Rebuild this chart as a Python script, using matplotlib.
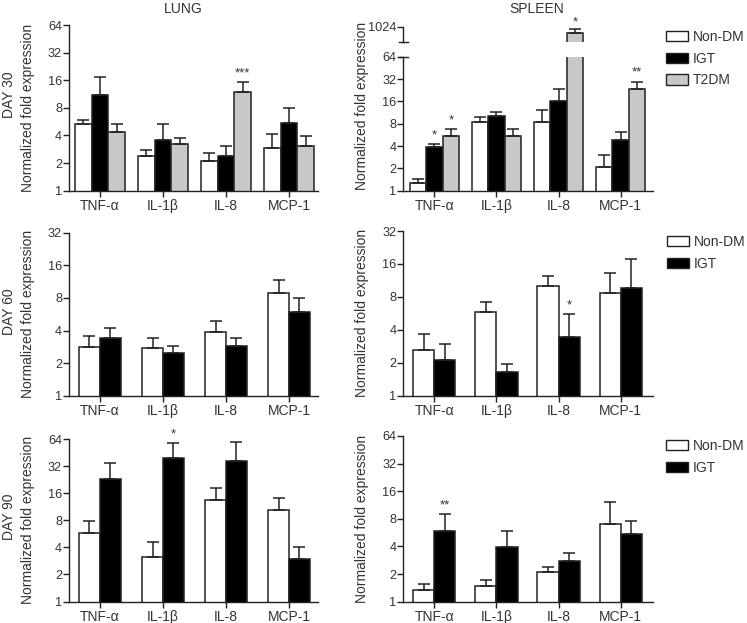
import numpy as np
import matplotlib
matplotlib.use("Agg")
import matplotlib.pyplot as plt
from matplotlib.patches import Patch
from matplotlib.ticker import FixedLocator, NullLocator

plt.rcParams['font.family'] = ['Liberation Sans', 'DejaVu Sans']

W, H = 747, 623
TXT = '#333333'
LINE = '#222222'
GRAY = '#c8c8c8'

categories = ['TNF-α', 'IL-1β', 'IL-8', 'MCP-1']

# DAY 30 -- LUNG
lung30_nondm = [5.4, 2.4, 2.1, 2.95]
lung30_nondm_err = [5.9, 2.8, 2.6, 4.1]
lung30_igt = [11.0, 3.6, 2.36, 5.5]
lung30_igt_err = [17.3, 5.3, 3.1, 8.0]
lung30_t2dm = [4.4, 3.2, 11.9, 3.1]
lung30_t2dm_err = [5.3, 3.8, 15.2, 3.97]
lung30_stars = ['', '', '***', '']  # on T2DM

# DAY 30 -- SPLEEN
spleen30_nondm = [1.26, 8.5, 8.5, 2.1]
spleen30_nondm_err = [1.42, 9.7, 12.4, 3.0]
spleen30_igt = [3.9, 10.1, 16.2, 4.8]
spleen30_igt_err = [4.2, 11.4, 23.2, 6.15]
spleen30_t2dm = [5.5, 5.4, 850.0, 23.5]
spleen30_t2dm_err = [6.7, 6.8, 940.0, 29.5]
spleen30_igt_stars = ['*', '', '', '']
spleen30_t2dm_stars = ['*', '', '*', '**']

# DAY 60
lung60_nondm = [2.83, 2.77, 3.9, 8.94]
lung60_nondm_err = [3.58, 3.41, 4.92, 11.8]
lung60_igt = [3.38, 2.49, 2.85, 5.89]
lung60_igt_err = [4.19, 2.9, 3.43, 7.92]
spleen60_nondm = [2.61, 5.84, 10.1, 8.76]
spleen60_nondm_err = [3.65, 7.25, 12.4, 13.1]
spleen60_igt = [2.11, 1.66, 3.45, 9.67]
spleen60_igt_err = [2.96, 1.94, 5.59, 17.6]
spleen60_stars = ['', '', '*', '']

# DAY 90
lung90_nondm = [5.7, 3.14, 13.5, 10.3]
lung90_nondm_err = [7.85, 4.6, 18.4, 14.2]
lung90_igt = [23.1, 39.4, 36.2, 2.96]
lung90_igt_err = [34.4, 57.2, 58.7, 4.05]
lung90_stars = ['', '*', '', '']
spleen90_nondm = [1.33, 1.49, 2.09, 7.03]
spleen90_nondm_err = [1.55, 1.71, 2.41, 12.1]
spleen90_igt = [5.95, 3.98, 2.78, 5.47]
spleen90_igt_err = [8.96, 5.85, 3.37, 7.65]
spleen90_stars = ['**', '', '', '']

y_ticks_64 = [1, 2, 4, 8, 16, 32, 64]
y_ticks_32 = [1, 2, 4, 8, 16, 32]

fig = plt.figure(figsize=(W / 100, H / 100), dpi=100)


def add_ax(x0, y0, x1, y1):
    return fig.add_axes([x0 / W, 1 - y1 / H, (x1 - x0) / W, (y1 - y0) / H])


def style(ax, ylim, ticks, xlim, show_x=True):
    ax.set_yscale('log', base=2)
    ax.set_ylim(*ylim)
    ax.set_xlim(*xlim)
    ax.yaxis.set_major_locator(FixedLocator(ticks))
    ax.yaxis.set_minor_locator(NullLocator())
    ax.set_yticklabels([str(t) for t in ticks])
    for s in ['top', 'right']:
        ax.spines[s].set_visible(False)
    for s in ['left', 'bottom']:
        ax.spines[s].set_color(LINE)
        ax.spines[s].set_linewidth(1.0)
    ax.tick_params(axis='y', direction='out', length=4, width=1.0, color=LINE,
                   labelsize=9.2, labelcolor=TXT, pad=1)
    ax.set_xticks(range(len(categories)))
    if show_x:
        ax.set_xticklabels(categories)
        ax.tick_params(axis='x', direction='out', length=4, width=1.0, color=LINE,
                       labelsize=10, labelcolor=TXT, pad=2)
    ax.patch.set_alpha(0)


def bars(ax, series, errs, colors, width):
    n = len(series)
    x = np.arange(len(categories))
    out = []
    for i, (vals, err, c) in enumerate(zip(series, errs, colors)):
        xs = x + (i - (n - 1) / 2) * width
        ax.bar(xs, vals, width=width, bottom=0.0001, color=c, edgecolor=LINE,
               linewidth=1.1, zorder=2)
        vals = np.array(vals)
        err = np.array(err)
        ax.errorbar(xs, vals, yerr=[np.zeros_like(vals), err - vals], fmt='none',
                    ecolor=LINE, elinewidth=1.1, capsize=4.5, capthick=1.1, zorder=3)
        out.append(xs)
    return out


def stars(ax, xs, errs, labels, off=2):
    for x, e, s in zip(xs, errs, labels):
        if s:
            ax.annotate(s, (x, e), xytext=(0, off), textcoords='offset points',
                        ha='center', va='bottom', fontsize=9.5, color=TXT,
                        annotation_clip=False)


def ylab(ax, yc=0.5):
    ax.set_ylabel('Normalized fold expression', fontsize=10, color=TXT)
    w = ax.get_position().width * W
    ax.yaxis.set_label_coords(-34 / w, yc)


def legend(x, y, labels, colors):
    handles = [Patch(facecolor=c, edgecolor=LINE, linewidth=1.0) for c in colors]
    fig.legend(handles, labels, loc='upper left',
               bbox_to_anchor=(x / W, 1 - y / H), frameon=False, fontsize=10,
               handlelength=1.6, handleheight=0.8, handletextpad=0.35,
               labelspacing=0.55, borderaxespad=0, borderpad=0,
               labelcolor=TXT)


cols3 = ['white', 'black', GRAY]
cols2 = ['white', 'black']
lung_xlim = (-0.49, 3.46)
spl_xlim = (-0.5, 3.52)

# Row 1 lung
ax = add_ax(69, 25, 318, 190.7)
style(ax, (1, 64), y_ticks_64, lung_xlim)
xs = bars(ax, [lung30_nondm, lung30_igt, lung30_t2dm],
          [lung30_nondm_err, lung30_igt_err, lung30_t2dm_err], cols3, 0.265)
stars(ax, xs[2], lung30_t2dm_err, lung30_stars)
ylab(ax)

# Row 1 spleen (broken axis)
ax = add_ax(403.3, 56.7, 653, 190.7)
style(ax, (1, 64), y_ticks_64, spl_xlim)
xs = bars(ax, [spleen30_nondm, spleen30_igt, spleen30_t2dm],
          [spleen30_nondm_err, spleen30_igt_err, spleen30_t2dm_err], cols3, 0.265)
stars(ax, xs[1], spleen30_igt_err, spleen30_igt_stars)
stars(ax, xs[2], spleen30_t2dm_err,
      [s if i != 2 else '' for i, s in enumerate(spleen30_t2dm_stars)])
ax.plot([-0.018, 0.018], [1, 1], transform=ax.transAxes, color=LINE, lw=1.0,
        clip_on=False)
ylab(ax, 0.63)

axu = add_ax(403.3, 26.7, 653, 42.3)
axu.set_yscale('log', base=2)
axu.set_ylim(630, 1024)
axu.set_xlim(*spl_xlim)
axu.yaxis.set_major_locator(FixedLocator([1024]))
axu.yaxis.set_minor_locator(NullLocator())
axu.set_yticklabels(['1024'])
for s in ['top', 'right', 'bottom']:
    axu.spines[s].set_visible(False)
axu.spines['left'].set_color(LINE)
axu.spines['left'].set_linewidth(1.0)
axu.tick_params(axis='y', direction='out', length=4, width=1.0, color=LINE,
                labelsize=9.2, labelcolor=TXT, pad=1)
axu.set_xticks([])
axu.patch.set_alpha(0)
xsu = bars(axu, [spleen30_nondm, spleen30_igt, spleen30_t2dm],
           [spleen30_nondm_err, spleen30_igt_err, spleen30_t2dm_err], cols3, 0.265)
stars(axu, [xsu[2][2]], [spleen30_t2dm_err[2]], [spleen30_t2dm_stars[2]], off=1)
axu.plot([-0.018, 0.018], [0, 0], transform=axu.transAxes, color=LINE, lw=1.0,
         clip_on=False)

# Row 2
ax = add_ax(69, 232.7, 318, 395.7)
style(ax, (1, 32), y_ticks_32, lung_xlim)
bars(ax, [lung60_nondm, lung60_igt], [lung60_nondm_err, lung60_igt_err], cols2, 0.33)
ylab(ax)

ax = add_ax(403.3, 231, 653, 395.7)
style(ax, (1, 32), y_ticks_32, spl_xlim)
xs = bars(ax, [spleen60_nondm, spleen60_igt], [spleen60_nondm_err, spleen60_igt_err],
          cols2, 0.34)
stars(ax, xs[1], spleen60_igt_err, spleen60_stars)
ylab(ax)

# Row 3
ax = add_ax(69, 439, 318, 601.5)
style(ax, (1, 64), y_ticks_64, lung_xlim)
xs = bars(ax, [lung90_nondm, lung90_igt], [lung90_nondm_err, lung90_igt_err], cols2, 0.33)
stars(ax, xs[1], lung90_igt_err, lung90_stars)
ylab(ax)

ax = add_ax(403.3, 436, 653, 601.7)
style(ax, (1, 64), y_ticks_64, spl_xlim)
xs = bars(ax, [spleen90_nondm, spleen90_igt], [spleen90_nondm_err, spleen90_igt_err],
          cols2, 0.34)
stars(ax, xs[1], spleen90_igt_err, spleen90_stars)
ylab(ax)

# Titles and row labels
fig.text(183 / W, 1 - 9 / H, 'LUNG', ha='center', va='center', fontsize=10, color=TXT)
fig.text(537 / W, 1 - 9 / H, 'SPLEEN', ha='center', va='center', fontsize=10, color=TXT)
for lab, yc in [('DAY 30', 95), ('DAY 60', 312), ('DAY 90', 517)]:
    fig.text(9 / W, 1 - yc / H, lab, rotation=90, ha='center', va='center',
             fontsize=10, color=TXT)

legend(666, 30, ['Non-DM', 'IGT', 'T2DM'], cols3)
legend(667, 235, ['Non-DM', 'IGT'], cols2)
legend(666, 439, ['Non-DM', 'IGT'], cols2)

fig.savefig('out.png', dpi=100)
